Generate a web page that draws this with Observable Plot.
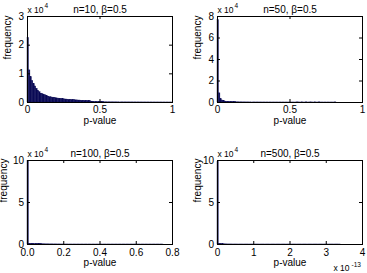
<!DOCTYPE html>
<html>
<head>
<meta charset="utf-8">
<script src="https://cdn.jsdelivr.net/npm/d3@7"></script>
<script src="https://cdn.jsdelivr.net/npm/@observablehq/plot@0.6"></script>
<style>
  html, body { margin: 0; padding: 0; background: #fff; }
  #wrap { position: relative; width: 367px; height: 273px; overflow: hidden; background: #fff; }
  #wrap > svg { position: absolute; }
</style>
</head>
<body>
<div id="wrap"></div>
<script>
// Histogram counts of simulated p-values, one array per sample size n (beta = 0.5).
const titles = ["n=10, β=0.5", "n=50, β=0.5", "n=100, β=0.5", "n=500, β=0.5"];

const counts10 = [
  22500, 11200, 8800, 7400, 6400, 5600, 4800, 4100, 3600, 3100,
  2900, 2700, 2500, 2200, 2050, 1900, 1800, 1700, 1600, 1500,
  1420, 1350, 1280, 1220, 1160, 1100, 1050, 1000, 960, 920,
  880, 840, 800, 760, 720, 690, 660, 620, 590, 560,
  530, 500, 470, 440, 300, 200, 150, 120, 100, 90,
  80, 75, 70, 65, 60, 55, 52, 50, 48, 45,
  42, 40, 38, 36, 34, 32, 30, 29, 28, 27,
  26, 25, 24, 23, 22, 21, 20, 19, 18, 17,
  16, 15, 14, 13, 12, 12, 11, 11, 10, 10,
  9, 9, 8, 8, 7, 7, 6, 6, 5, 5
];
const counts50 = [
  76500, 8500, 3000, 1800, 1200, 900, 650, 500, 400, 320,
  260, 220, 190, 160, 140, 120, 105, 95, 85, 75,
  68, 62, 56, 50, 46, 42, 38, 35, 32, 30,
  28, 26, 24, 22, 20, 19, 18, 17, 16, 15,
  14, 13, 12, 12, 11, 11, 10, 10, 9, 9,
  8, 8, 7, 7, 6, 150, 6, 5, 150, 5,
  5, 150, 4, 4, 150, 4, 3, 150, 3, 3,
  150, 2, 2, 2, 2, 2, 1, 1, 1, 1,
  1, 120
];
const counts100 = [
  99300, 900, 750, 650, 560, 480, 420, 370, 330, 290,
  260, 230, 200, 180, 160, 140, 125, 110, 100, 90,
  80, 70, 60, 50, 40, 30, 25, 20, 18, 16,
  14, 12, 10, 9, 8, 7, 6, 5, 5, 4,
  4, 3, 3, 3, 2, 2, 2, 2, 1, 1,
  1, 1, 1, 1, 1, 1, 1, 1, 1, 1,
  1, 1, 1, 1, 1, 1, 1, 1, 1, 1,
  1, 1, 1, 1, 1, 1, 1, 1, 1, 1,
  1, 1, 1, 1, 1, 1, 1, 1, 1, 1,
  1, 1, 1, 1, 1, 1, 1, 1, 1, 1
];
const counts500 = [
  98500, 500, 400, 300, 250, 200, 150, 100, 80, 60,
  50, 40, 30, 25, 20, 15, 12, 10, 8, 6,
  5, 4, 4, 3, 3, 3, 2, 2, 2, 2,
  2, 2, 2, 1, 1, 1, 1, 1, 1, 1,
  1, 1, 1, 1, 1, 1, 1, 1, 1, 1,
  1, 1, 1, 1, 1, 1, 1, 1, 1, 1,
  1, 1, 1, 1, 1, 1, 1, 1, 1, 1,
  1, 1, 1, 1, 1, 1, 1, 1, 1, 1,
  1, 1, 1, 1, 1, 1, 1, 1, 1, 1,
  1, 1, 1, 1, 1, 1, 1, 1, 1, 1
];

const binWidths = [0.01, 0.01, 0.0075, 3.4e-15];
const xDomains = [[0, 1], [0, 1], [0, 0.8], [0, 4e-13]];
const yDomains = [[0, 30000], [0, 80000], [0, 100000], [0, 100000]];
const xTickValues = [
  [0, 0.5, 1],
  [0, 0.5, 1],
  [0, 0.2, 0.4, 0.6, 0.8],
  [0, 1e-13, 2e-13, 3e-13, 4e-13]
];
const yTickValues = [
  [0, 10000, 20000, 30000],
  [0, 20000, 40000, 60000, 80000],
  [0, 50000, 100000],
  [0, 50000, 100000]
];
const xTickFormats = [
  d => String(d),
  d => String(d),
  d => d.toFixed(1),
  d => String(Math.round(d * 1e13))
];

const BAR = "#0a0a55";
const INK = "#000";

// Placement of each subplot on the page (2 x 2 grid).
const boxes = [
  {left: 0,   top: 0,   width: 184, height: 136, ml: 27, mr: 12, mt: 16, mb: 34},
  {left: 184, top: 0,   width: 183, height: 136, ml: 33, mr: 5,  mt: 16, mb: 34},
  {left: 0,   top: 136, width: 184, height: 137, ml: 27, mr: 12, mt: 24, mb: 29},
  {left: 184, top: 136, width: 183, height: 137, ml: 33, mr: 5,  mt: 24, mb: 29}
];
const allCounts = [counts10, counts50, counts100, counts500];

function panel(i) {
  const b = boxes[i];
  const fw = b.width - b.ml - b.mr;
  const fh = b.height - b.mt - b.mb;
  const w = binWidths[i];
  const bins = allCounts[i].map((c, k) => ({x1: k * w, x2: (k + 1) * w, count: c}));
  const marks = [
    Plot.rect(bins, {x1: "x1", x2: "x2", y1: 0, y2: "count", fill: BAR, stroke: BAR, strokeWidth: 0.4}),
    Plot.frame({stroke: INK, strokeWidth: 1}),
    // inward-facing ticks on all four sides
    Plot.tickY(yTickValues[i], {y: d => d, insetRight: fw - 3, stroke: INK}),
    Plot.tickY(yTickValues[i], {y: d => d, insetLeft: fw - 3, stroke: INK}),
    Plot.tickX(xTickValues[i], {x: d => d, insetTop: fh - 3, stroke: INK}),
    Plot.tickX(xTickValues[i], {x: d => d, insetBottom: fh - 3, stroke: INK}),
    Plot.axisX({ticks: xTickValues[i], tickSize: 0, tickPadding: i < 2 ? 3 : 4.5, tickFormat: xTickFormats[i], label: null, fill: INK}),
    Plot.axisY({ticks: yTickValues[i], tickSize: 0, tickPadding: 3.5, tickFormat: d => String(d / 1e4), label: null, fill: INK}),
    Plot.text([titles[i]], {frameAnchor: "top", dy: -11, text: d => d, fill: INK}),
    // exponent multiplier of the y axis
    Plot.text(["x 10"], {frameAnchor: "top-left", textAnchor: "start", dy: -10, fontSize: 8.5, text: d => d, fill: INK}),
    Plot.text(["4"], {frameAnchor: "top-left", textAnchor: "start", dx: 17, dy: -13, fontSize: 6.5, text: d => d, fill: INK}),
    Plot.text(["frequency"], {frameAnchor: "left", rotate: -90, dx: i === 2 ? -24 : -20, text: d => d, fill: INK}),
    Plot.text(["p-value"], {frameAnchor: "bottom", dy: i < 2 ? 21 : 21.5, text: d => d, fill: INK})
  ];
  if (i === 3) {
    // exponent multiplier of the x axis
    marks.push(
      Plot.text(["x 10"], {frameAnchor: "bottom-right", textAnchor: "start", dx: -29, dy: 26, fontSize: 8.5, text: d => d, fill: INK}),
      Plot.text(["-13"], {frameAnchor: "bottom-right", textAnchor: "start", dx: -11, dy: 22, fontSize: 6.5, text: d => d, fill: INK})
    );
  }
  const svg = Plot.plot({
    width: b.width,
    height: b.height,
    marginLeft: b.ml,
    marginRight: b.mr,
    marginTop: b.mt,
    marginBottom: b.mb,
    style: {fontFamily: "'Liberation Sans', Arial, sans-serif", fontSize: "10px", color: INK, background: "transparent", overflow: "visible"},
    x: {domain: xDomains[i]},
    y: {domain: yDomains[i]},
    marks
  });
  svg.style.left = b.left + "px";
  svg.style.top = b.top + "px";
  return svg;
}

const wrap = document.getElementById("wrap");
for (let i = 0; i < 4; i++) wrap.appendChild(panel(i));
</script>
</body>
</html>
